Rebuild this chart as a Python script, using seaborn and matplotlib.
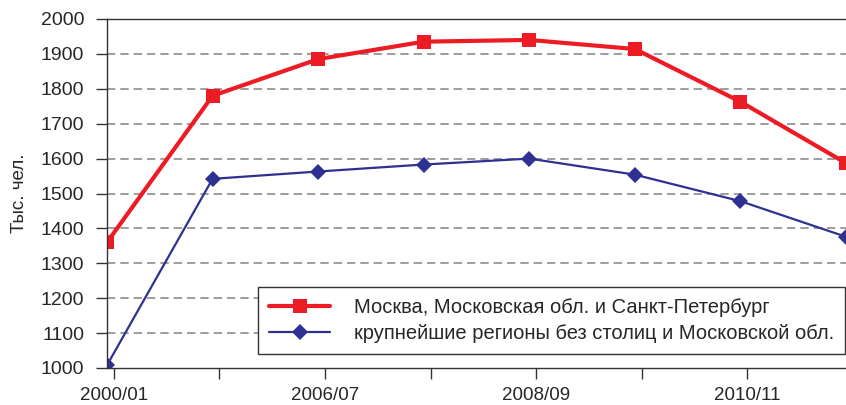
import numpy as np
import pandas as pd
import seaborn as sns
import matplotlib.pyplot as plt

# данные
periods = ["2000/01", "", "2006/07", "", "2008/09", "", "2010/11", ""]
capitals = [1360, 1780, 1885, 1935, 1940, 1914, 1763, 1587]
regions = [1008, 1542, 1563, 1583, 1600, 1554, 1478, 1376]

name_cap = "Москва, Московская обл. и Санкт-Петербург"
name_reg = "крупнейшие регионы без столиц и Московской обл."

sns.set_style("white")
plt.rcParams['font.family'] = ['Liberation Sans', 'DejaVu Sans']

df = pd.DataFrame({
    "x": list(range(len(periods))) * 2,
    "val": capitals + regions,
    "series": [name_cap] * len(capitals) + [name_reg] * len(regions),
})

fig = plt.figure(figsize=(8.46, 4.05), dpi=100)
ax = fig.add_axes([107 / 846, 37 / 405, 739 / 846, 349 / 405])

sns.lineplot(data=df[df.series == name_cap], x="x", y="val", color="#ED1C24",
             lw=3, marker="s", markersize=10, markeredgewidth=0,
             label=name_cap, ax=ax)
sns.lineplot(data=df[df.series == name_reg], x="x", y="val", color="#2E3192",
             lw=1.6, marker="D", markersize=8, markeredgewidth=0,
             label=name_reg, ax=ax)

ax.set_yticks(np.arange(1000, 2001, 100))
# в оригинале засечки чуть смещены вправо от точек
ax.set_xticks(np.arange(len(periods)) + 0.065)
ax.set_xticklabels(periods, fontsize=13.5)
ax.set_xlim(0, 7)
ax.set_ylim(1000, 2000)
ax.tick_params(axis='y', labelsize=14, direction='out', length=8, width=1,
               left=True, color="#333333", pad=8.5)
ax.tick_params(axis='x', direction='out', length=8, width=1, bottom=True,
               color="#333333", pad=6)
ax.set_xlabel("")
ax.set_ylabel("Тыс. чел.", fontsize=13.5, labelpad=9)

for y in range(1100, 2000, 100):
    ax.axhline(y, color="#8c8c8c", lw=1.2, ls=(0, (5, 3)), zorder=0)

for s in ["left", "bottom", "top"]:
    ax.spines[s].set_visible(True)
    ax.spines[s].set_color("#333333")
    ax.spines[s].set_linewidth(1)
ax.spines["right"].set_visible(False)

leg = ax.legend(loc="lower right", bbox_to_anchor=(0.999, 0.04),
                fontsize=14.5, frameon=True, fancybox=False,
                edgecolor="#333333", borderaxespad=0, handlelength=3.0,
                handletextpad=1.2, borderpad=0.55, labelspacing=0.35)
leg.get_frame().set_linewidth(1)
leg.get_frame().set_alpha(1)

plt.savefig("out.png", dpi=100)
